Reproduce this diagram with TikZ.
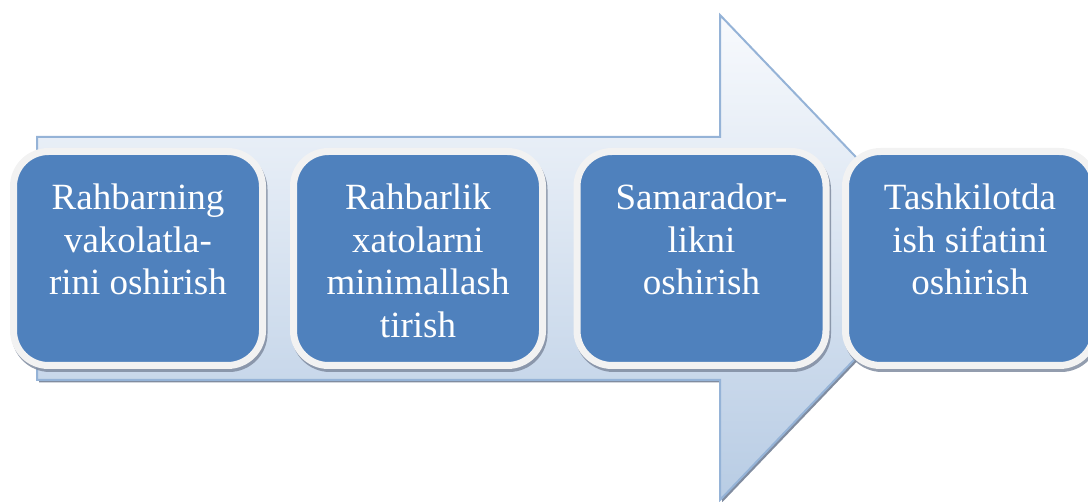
\documentclass[tikz,border=0pt]{standalone}
\usepackage{fontspec}
\setmainfont{Liberation Serif}
\usetikzlibrary{shadows}
\definecolor{boxblue}{RGB}{79,129,189}
\definecolor{rimgray}{RGB}{242,242,242}
\definecolor{shadowgray}{RGB}{128,140,160}
\definecolor{arrowline}{RGB}{149,179,215}
\definecolor{arrowtop}{RGB}{248,250,253}
\definecolor{arrowbot}{RGB}{184,204,228}
\tikzset{
  stepbox/.style={rectangle, rounded corners=35pt, draw=rimgray, line width=7pt,
    fill=boxblue, minimum width=249pt, minimum height=214pt, inner sep=0pt,
    drop shadow={shadow xshift=1.5pt, shadow yshift=-3pt, fill=shadowgray,
      draw=shadowgray, line width=7pt, opacity=0.85}},
  steptext/.style={text=white, align=center, anchor=base, inner sep=0pt,
    font=\fontsize{37pt}{42.5pt}\selectfont},
}
\begin{document}
\begin{tikzpicture}[x=1pt,y=-1pt]
\useasboundingbox (0,0) rectangle (1088,502);
\clip (0,0) rectangle (1088,502);
% arrow
\coordinate (a1) at (37,137);
\coordinate (a2) at (720,137);
\coordinate (a3) at (720,15);
\coordinate (tip) at (952,257.5);
\coordinate (a5) at (720,500);
\coordinate (a6) at (720,380);
\coordinate (a7) at (37,380);
\fill[shadowgray] ([shift={(2,2.5)}]a1) -- ([shift={(2,2.5)}]a2) -- ([shift={(2,2.5)}]a3) -- ([shift={(2,2.5)}]tip) -- ([shift={(2,2.5)}]a5) -- ([shift={(2,2.5)}]a6) -- ([shift={(2,2.5)}]a7) -- cycle;
\draw[arrowline, line width=2pt, top color=arrowtop, bottom color=arrowbot, line join=miter]
  (a1) -- (a2) -- (a3) -- (tip) -- (a5) -- (a6) -- (a7) -- cycle;
% boxes
\node[stepbox] (b1) at (138,258.5) {};
\node[stepbox] (b2) at (418,258.5) {};
\node[stepbox] (b3) at (701.5,258.5) {};
\node[stepbox] (b4) at (970,258.5) {};
% text: base anchor is the baseline of the last line
\node[steptext] (t1) at (138,295) {Rahbarning\\vakolatla-\\rini oshirish};
\node[steptext] (t2) at (418,337.5) {Rahbarlik\\xatolarni\\minimallash\\tirish};
\node[steptext] (t3) at (701.5,295) {Samarador-\\likni\\oshirish};
\node[steptext] (t4) at (970,295) {Tashkilotda\\ish sifatini\\oshirish};
\end{tikzpicture}
\end{document}
